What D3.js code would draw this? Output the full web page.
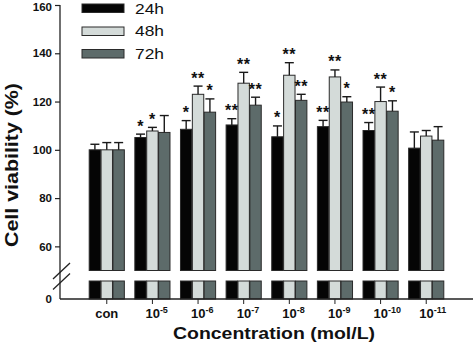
<!DOCTYPE html>
<html><head><meta charset="utf-8">
<script src="https://cdn.jsdelivr.net/npm/d3@7"></script>
<style>
body{margin:0;background:#fff;}
svg{display:block;font-family:Arial,"Liberation Sans",sans-serif;}
</style></head>
<body><svg id="c" width="474" height="344"></svg>
<script>
const categories = ["con","-5","-6","-7","-8","-9","-10","-11"];
const seriesNames = ["24h","48h","72h"];
const seriesColors = ["#050505","#d4dbd9","#5d6b6a"];
const means24 = [100,105.1,108.5,110.3,105.4,109.6,108.0,100.7];
const means48 = [100,107.8,123.0,127.6,130.9,130.2,120.0,105.7];
const means72 = [100,107.2,115.6,118.5,120.5,119.8,116.0,104.0];
const err24 = [2.3,1.4,3.6,2.6,4.5,2.6,3.3,6.7];
const err48 = [3.0,1.5,3.4,4.5,5.2,2.9,6.0,2.3];
const err72 = [3.0,7.0,5.5,3.3,2.5,2.2,4.3,5.6];
const sig24 = ["","*","*","**","*","**","**",""];
const sig48 = ["","*","**","**","**","**","**",""];
const sig72 = ["","","*","**","**","*","*",""];
const yTicksTop = [60,80,100,120,140,160];
const yTicksBottom = [0];

const svg = d3.select("#c");
const x0 = 60, x1 = 473;
const yTop = d3.scaleLinear().domain([50,160]).range([270.5,5]);
const yBot = d3.scaleLinear().domain([0,8]).range([299,281]);
const xG = d3.scaleBand().domain(categories).range([x0,x1]).paddingInner(0.23).paddingOuter(0.64);
const xS = d3.scaleBand().domain(seriesNames).range([0,xG.bandwidth()]).paddingInner(0.04);

const means = [means24,means48,means72], errs=[err24,err48,err72], sigs=[sig24,sig48,sig72];
const rows = [];
seriesNames.forEach((s,si)=>categories.forEach((c,ci)=>rows.push({s,si,c,v:means[si][ci],e:errs[si][ci],sig:sigs[si][ci]})));

const g = svg.append("g");
g.selectAll("rect.top").data(rows).join("rect").attr("class","top")
 .attr("x",d=>xG(d.c)+xS(d.s)).attr("width",xS.bandwidth())
 .attr("y",d=>yTop(d.v)).attr("height",d=>yTop(50)-yTop(d.v))
 .attr("fill",d=>seriesColors[d.si]).attr("stroke","#2a2a2a").attr("stroke-width",1);
g.selectAll("rect.bot").data(rows).join("rect").attr("class","bot")
 .attr("x",d=>xG(d.c)+xS(d.s)).attr("width",xS.bandwidth())
 .attr("y",yBot(8)).attr("height",yBot(0)-yBot(8))
 .attr("fill",d=>seriesColors[d.si]).attr("stroke","#2a2a2a").attr("stroke-width",1);
const cx = d=>xG(d.c)+xS(d.s)+xS.bandwidth()/2;
g.selectAll("line.ev").data(rows).join("line").attr("class","ev")
 .attr("x1",cx).attr("x2",cx).attr("y1",d=>yTop(d.v)).attr("y2",d=>yTop(d.v+d.e))
 .attr("stroke","#1a1a1a").attr("stroke-width",1.4);
g.selectAll("line.ec").data(rows).join("line").attr("class","ec")
 .attr("x1",d=>cx(d)-4.5).attr("x2",d=>cx(d)+4.5).attr("y1",d=>yTop(d.v+d.e)).attr("y2",d=>yTop(d.v+d.e))
 .attr("stroke","#1a1a1a").attr("stroke-width",1.4);
g.selectAll("text.sig").data(rows.filter(d=>d.sig)).join("text").attr("class","sig")
 .attr("x",cx).attr("y",d=>yTop(d.v+d.e)-2.5).attr("text-anchor","middle")
 .attr("font-size",16).attr("font-weight","bold").attr("letter-spacing",0.5).attr("fill","#111")
 .text(d=>d.sig);

const axTop = svg.append("g").attr("transform",`translate(${x0},0)`)
 .call(d3.axisLeft(yTop).tickValues(yTicksTop).tickSize(5).tickPadding(3));
axTop.select(".domain").remove();
const axBot = svg.append("g").attr("transform",`translate(${x0},0)`)
 .call(d3.axisLeft(yBot).tickValues(yTicksBottom).tickSize(0).tickPadding(8));
axBot.select(".domain").remove();
svg.selectAll(".tick text").attr("font-size",11.5).attr("font-weight","bold").attr("fill","#111")
 .attr("font-family","Arial, 'Liberation Sans', sans-serif");
axTop.selectAll(".tick text").filter(d=>d===160).attr("y",1.5);
svg.selectAll(".tick line").attr("stroke","#222").attr("stroke-width",1.2);
svg.append("line").attr("x1",x0).attr("x2",x0).attr("y1",yTop(160)).attr("y2",yBot(0))
 .attr("stroke","#222").attr("stroke-width",1.3);
[0,10.5].forEach(dy=>{
  svg.append("line").attr("x1",53).attr("y1",279+dy).attr("x2",70).attr("y2",263+dy)
   .attr("stroke","#222").attr("stroke-width",1.3);
});

const axX = svg.append("g").attr("transform",`translate(0,${yBot(0)})`)
 .call(d3.axisBottom(xG).tickSize(5).tickFormat(""));
axX.select(".domain").attr("d",`M${x0},0H${x1}`).attr("stroke","#222").attr("stroke-width",1.3);
axX.selectAll(".tick line").attr("stroke","#222");
const lbl = svg.append("g");
categories.forEach(c=>{
  const t = lbl.append("text").attr("y",318).attr("font-size",13).attr("font-weight","bold").attr("fill","#111");
  const xc = xG(c)+xG.bandwidth()/2;
  if(c==="con"){ t.attr("x",xc).attr("text-anchor","middle").text("con"); }
  else {
    t.attr("x",xc-7).attr("text-anchor","start");
    t.append("tspan").text("10");
    t.append("tspan").attr("dy",-5.5).attr("font-size",9).text(c);
  }
});

svg.append("text").attr("x",274).attr("y",339).attr("text-anchor","middle")
 .attr("font-size",17).attr("font-weight","bold").attr("fill","#111")
 .attr("textLength",202).attr("lengthAdjust","spacingAndGlyphs").text("Concentration (mol/L)");
svg.append("text").attr("transform","translate(18,165) rotate(-90)").attr("text-anchor","middle")
 .attr("font-size",18).attr("font-weight","bold").attr("fill","#111")
 .attr("textLength",164).attr("lengthAdjust","spacingAndGlyphs").text("Cell viability (%)");

const leg = svg.append("g");
const legY = [4,27,49.5], legBase=[13.5,36.2,58.5];
seriesNames.forEach((s,i)=>{
  leg.append("rect").attr("x",82).attr("y",legY[i]).attr("width",42).attr("height",8.5)
   .attr("fill",seriesColors[i]).attr("stroke","#2a2a2a").attr("stroke-width",1);
  leg.append("text").attr("x",135).attr("y",legBase[i]).attr("font-size",14.5).attr("fill","#111")
   .attr("textLength",29).attr("lengthAdjust","spacingAndGlyphs").text(s);
});
</script></body></html>
